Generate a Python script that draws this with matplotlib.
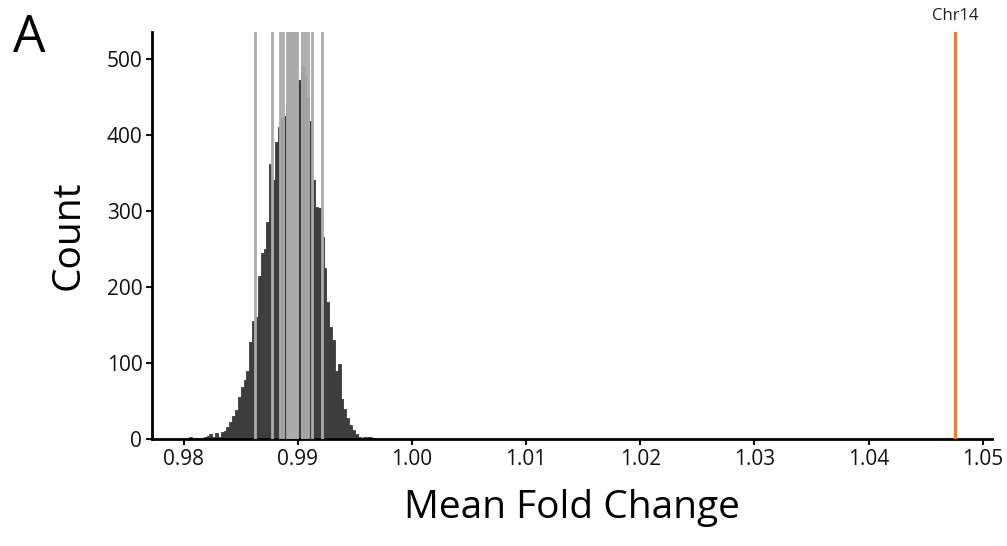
#!/usr/bin/env python3
"""
Histogram of mean fold change (random gene sets) with chromosome means overlaid
"""

import numpy as np
import matplotlib
matplotlib.use("Agg")
import matplotlib.pyplot as plt

# histogram bins (left edge + width) and counts
bin_start = 0.9805
bin_width = 0.00025
counts = [2, 0, 1, 0, 1, 2, 4, 6, 3, 8, 3, 9, 10, 16, 22, 30, 38, 55, 68, 78,
          90, 128, 155, 160, 215, 245, 250, 285, 362, 340, 390, 410, 422, 425,
          440, 455, 462, 470, 472, 490, 480, 450, 418, 340, 305, 304, 265, 225,
          180, 147, 130, 90, 99, 53, 40, 27, 18, 12, 6, 2, 0, 3, 2, 2, 1]

# other chromosomes (grey) and the highlighted one
chrom_means = [0.98625, 0.98771, 0.98843, 0.98870, 0.98902, 0.98922, 0.98940,
               0.98957, 0.98975, 0.98989, 0.98965, 0.98932, 0.99033, 0.99062,
               0.99091, 0.99126, 0.99208]
highlight_name = "Chr14"
highlight_value = 1.0476

x_ticks = [0.98, 0.99, 1.00, 1.01, 1.02, 1.03, 1.04, 1.05]
y_ticks = [0, 100, 200, 300, 400, 500]


def main():
    plt.rcParams['font.family'] = ['Open Sans', 'DejaVu Sans']

    fig = plt.figure(figsize=(10.07, 5.46), dpi=100)
    ax = fig.add_axes([0.151, 0.196, 0.834, 0.745])

    edges = bin_start + bin_width * np.arange(len(counts))
    ax.bar(edges, counts, width=bin_width, align='edge', color='#3d3d3d',
           edgecolor='#3d3d3d', linewidth=0.6, zorder=2)

    for v in chrom_means:
        ax.axvline(v, color='#ababab', linewidth=2, zorder=3)
    ax.axvline(highlight_value, color='#ef7a35', linewidth=2.2, zorder=3)
    ax.text(highlight_value, 1.02, highlight_name, transform=ax.get_xaxis_transform(),
            ha='center', va='bottom', fontsize=12, color='#222222')

    ax.set_xlim(0.97723, 1.0508)
    ax.set_ylim(0, 535)
    ax.set_xticks(x_ticks)
    ax.set_xticklabels([f"{t:.2f}" for t in x_ticks])
    ax.set_yticks(y_ticks)

    for side in ['top', 'right']:
        ax.spines[side].set_visible(False)
    for side in ['left', 'bottom']:
        ax.spines[side].set_linewidth(2)
    ax.tick_params(axis='both', labelsize=15, length=4, width=1.5,
                   colors='#111111', pad=3)

    ax.set_xlabel('Mean Fold Change', fontsize=28, labelpad=14)
    ax.set_ylabel('Count', fontsize=28, labelpad=14)

    fig.text(0.029, 0.93, 'A', fontsize=37, ha='center', va='center')

    fig.savefig('out.png', dpi=100)
    plt.close(fig)


if __name__ == "__main__":
    main()
